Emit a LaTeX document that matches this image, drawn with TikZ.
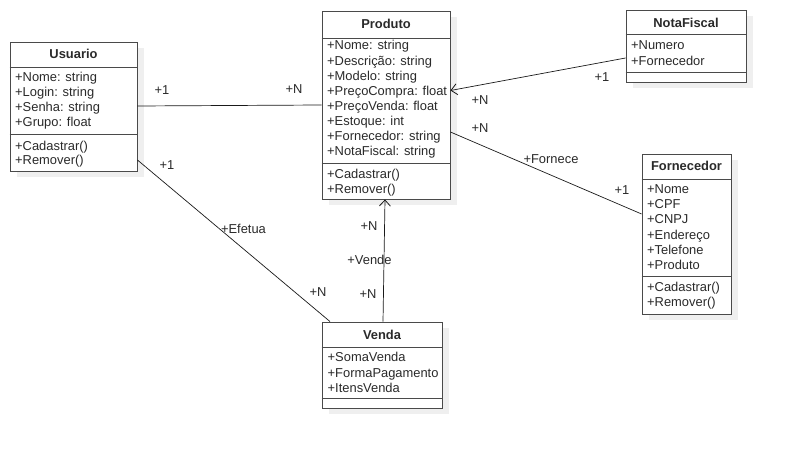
\documentclass[tikz,border=0pt]{standalone}
\usepackage{fontspec}
\setmainfont{Liberation Sans}
\usetikzlibrary{arrows.meta,shadows}
\definecolor{txt}{HTML}{2A2A2A}
\definecolor{bord}{HTML}{4A4A4A}
\definecolor{lin}{HTML}{1A1A1A}
\definecolor{shad}{HTML}{EFEFEF}
\begin{document}
\begin{tikzpicture}[x=1pt,y=-1pt,
  base/.style={font=\fontsize{12.9pt}{15pt}\selectfont, text=txt},
  cls/.style={draw=bord, line width=0.9pt, fill=white, inner sep=0pt,
    general shadow={shadow xshift=7pt, shadow yshift=-6pt, fill=shad}},
  ttl/.style={text=txt, font=\fontsize{12.9pt}{15pt}\selectfont\bfseries, inner sep=0pt, text height=9.2pt, text depth=0pt},
  attr/.style={base, anchor=west, inner sep=0pt, text height=9.2pt, text depth=0pt},
  lbl/.style={base, inner sep=0pt, text height=9.2pt, text depth=0pt},
  conn/.style={draw=lin, line width=0.7pt},
  arr/.style={conn, -{Straight Barb[length=6pt,width=11pt,line width=0.8pt]}},
  div/.style={draw=bord, line width=0.9pt}
]
\useasboundingbox (0,0) rectangle (786,449);
\fill[white] (0,0) rectangle (786,449);

% Usuario
\node[cls, minimum width=127pt, minimum height=129pt] (usu) at (73.5,106.5) {};
\draw[div] (usu.west |- 0,67) -- (usu.east |- 0,67);
\draw[div] (usu.west |- 0,134) -- (usu.east |- 0,134);
\node[ttl] (usut) at (73.5,54) {Usuario};
\node[attr] (usu1) at (15,77) {+Nome: string};
\node[attr] (usu2) at (15,92) {+Login: string};
\node[attr] (usu3) at (15,107) {+Senha: string};
\node[attr] (usu4) at (15,122) {+Grupo: float};
\node[attr] (usu5) at (15,146) {+Cadastrar()};
\node[attr] (usu6) at (15,160) {+Remover()};

% Produto
\node[cls, minimum width=128pt, minimum height=188pt] (prod) at (386,105) {};
\draw[div] (prod.west |- 0,38) -- (prod.east |- 0,38);
\draw[div] (prod.west |- 0,163) -- (prod.east |- 0,163);
\node[ttl] (prodt) at (386,24) {Produto};
\node[attr] (p1) at (327,45) {+Nome: string};
\node[attr] (p2) at (327,60.5) {+Descrição: string};
\node[attr] (p3) at (327,75.5) {+Modelo: string};
\node[attr] (p4) at (327,90.5) {+PreçoCompra: float};
\node[attr] (p5) at (327,105.5) {+PreçoVenda: float};
\node[attr] (p6) at (327,120.5) {+Estoque: int};
\node[attr] (p7) at (327,135.5) {+Fornecedor: string};
\node[attr] (p8) at (327,150.5) {+NotaFiscal: string};
\node[attr] (p9) at (327,173.5) {+Cadastrar()};
\node[attr] (p10) at (327,188.5) {+Remover()};

% NotaFiscal
\node[cls, minimum width=120pt, minimum height=72pt] (nf) at (686,46) {};
\draw[div] (nf.west |- 0,34) -- (nf.east |- 0,34);
\draw[div] (nf.west |- 0,72) -- (nf.east |- 0,72);
\node[ttl] (nft) at (686,23) {NotaFiscal};
\node[attr] (nf1) at (631,45) {+Numero};
\node[attr] (nf2) at (631,60.5) {+Fornecedor};

% Fornecedor
\node[cls, minimum width=89pt, minimum height=160pt] (forn) at (686.5,234) {};
\draw[div] (forn.west |- 0,179) -- (forn.east |- 0,179);
\draw[div] (forn.west |- 0,276) -- (forn.east |- 0,276);
\node[ttl] (fornt) at (686.5,166) {Fornecedor};
\node[attr] (f1) at (647,189) {+Nome};
\node[attr] (f2) at (647,204) {+CPF};
\node[attr] (f3) at (647,219) {+CNPJ};
\node[attr] (f4) at (647,234.5) {+Endereço};
\node[attr] (f5) at (647,249.5) {+Telefone};
\node[attr] (f6) at (647,264.5) {+Produto};
\node[attr] (f7) at (647,286.5) {+Cadastrar()};
\node[attr] (f8) at (647,302) {+Remover()};

% Venda
\node[cls, minimum width=120pt, minimum height=86pt] (venda) at (382,365) {};
\draw[div] (venda.west |- 0,347) -- (venda.east |- 0,347);
\draw[div] (venda.west |- 0,398) -- (venda.east |- 0,398);
\node[ttl] (vendat) at (382,334.5) {Venda};
\node[attr] (v1) at (327.5,357) {+SomaVenda};
\node[attr] (v2) at (327.5,372.5) {+FormaPagamento};
\node[attr] (v3) at (327.5,387.5) {+ItensVenda};

% connectors
\draw[conn] (usu.east |- 0,106) -- (prod.west |- 0,105);
\draw[conn] (usu.east |- 0,160) -- (venda.north -| 330,0);
\draw[arr] (venda.north -| 383,0) -- (prod.south -| 385,0);
\draw[arr] (nf.west |- 0,58) -- (prod.east |- 0,90.5);
\draw[conn] (prod.east |- 0,132) -- (forn.west |- 0,214);

% labels
\node[lbl] (l1) at (162,90) {+1};
\node[lbl] (l2) at (294,89) {+N};
\node[lbl] (l3) at (167,165) {+1};
\node[lbl] (l4) at (243.5,229) {+Efetua};
\node[lbl] (l5) at (318,291.5) {+N};
\node[lbl] (l6) at (369,226) {+N};
\node[lbl] (l7) at (369.5,259.5) {+Vende};
\node[lbl] (l8) at (368,293.5) {+N};
\node[lbl] (l9) at (602,76.5) {+1};
\node[lbl] (l10) at (480,100) {+N};
\node[lbl] (l11) at (480,128) {+N};
\node[lbl] (l12) at (551,159) {+Fornece};
\node[lbl] (l13) at (622,189.5) {+1};
\end{tikzpicture}
\end{document}
